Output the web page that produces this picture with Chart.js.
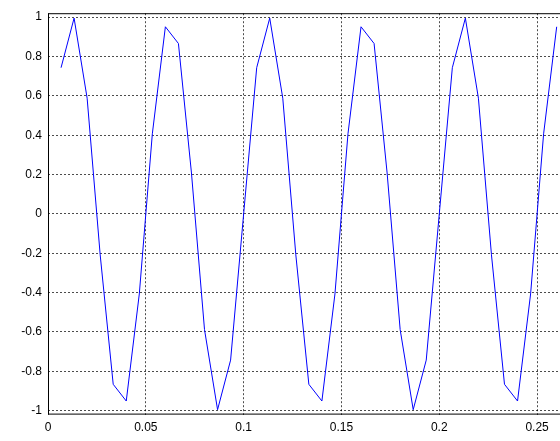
<!DOCTYPE html>
<html>
<head>
<meta charset="UTF-8" />
<script src="https://cdn.jsdelivr.net/npm/chart.js"></script>
<style>body{margin:0;background:#fff}#c{width:560px;height:441px}</style>
</head>
<body>
<div id="c"><canvas id="myChart"></canvas></div>
<script>
// sample times (s) and signal values
var times = [0.00667,0.01333,0.02,0.02667,0.03333,0.04,0.04667,0.05333,0.06,0.06667,0.07333,0.08,0.08667,0.09333,0.1,
  0.10667,0.11333,0.12,0.12667,0.13333,0.14,0.14667,0.15333,0.16,0.16667,0.17333,0.18,0.18667,0.19333,0.2,
  0.20667,0.21333,0.22,0.22667,0.23333,0.24,0.24667,0.25333,0.26];
var values = [0.743,0.995,0.588,-0.208,-0.866,-0.951,-0.407,0.407,0.951,0.866,0.208,-0.588,-0.995,-0.743,0,
  0.743,0.995,0.588,-0.208,-0.866,-0.951,-0.407,0.407,0.951,0.866,0.208,-0.588,-0.995,-0.743,0,
  0.743,0.995,0.588,-0.208,-0.866,-0.951,-0.407,0.407,0.951];
var xTicks = [0,0.05,0.1,0.15,0.2,0.25];

var grid = {color:"#000", lineWidth:0.7, drawTicks:false};
var border = {display:false, dash:[2,2]};
var font = {family:"Liberation Sans, Arial", size:12};

// solid frame around the plot area
var frame = {
  id: "frame",
  afterDraw: function (chart) {
    var a = chart.chartArea, ctx = chart.ctx;
    ctx.save();
    ctx.strokeStyle = "#000";
    ctx.lineWidth = 1;
    ctx.strokeRect(a.left + 0.5, a.top + 0.5, a.right - a.left + 2, a.bottom - a.top - 1);
    ctx.restore();
  }
};

new Chart(document.getElementById("myChart"), {
  type: "line",
  data: {
    datasets: [{
      data: times.map(function (t, i) { return {x: t, y: values[i]}; }),
      borderColor: "#0000ff",
      borderWidth: 1,
      pointRadius: 0,
      tension: 0,
      fill: false
    }]
  },
  options: {
    responsive: true,
    maintainAspectRatio: false,
    animation: false,
    layout: {padding: {top: -3, right: 0, left: 0, bottom: 0}},
    plugins: {legend: {display: false}, tooltip: {enabled: false}},
    scales: {
      x: {
        type: "linear", min: 0, max: 0.2617,
        afterBuildTicks: function (s) { s.ticks = xTicks.map(function (v) { return {value: v}; }); },
        ticks: {color:"#000", font: font, maxRotation: 0, padding: 6, callback: function (v) { return String(v); }},
        grid: grid, border: border
      },
      y: {
        min: -1.02, max: 1.02,
        afterFit: function (s) { s.width = 48; },
        afterBuildTicks: function (s) {
          var t = []; for (var i = -5; i <= 5; i++) t.push({value: i / 5}); s.ticks = t;
        },
        ticks: {color:"#000", font: font, padding: 6, callback: function (v) { return String(Math.round(v * 10) / 10); }},
        grid: grid, border: border
      }
    }
  },
  plugins: [frame]
});
</script>
</body>
</html>
